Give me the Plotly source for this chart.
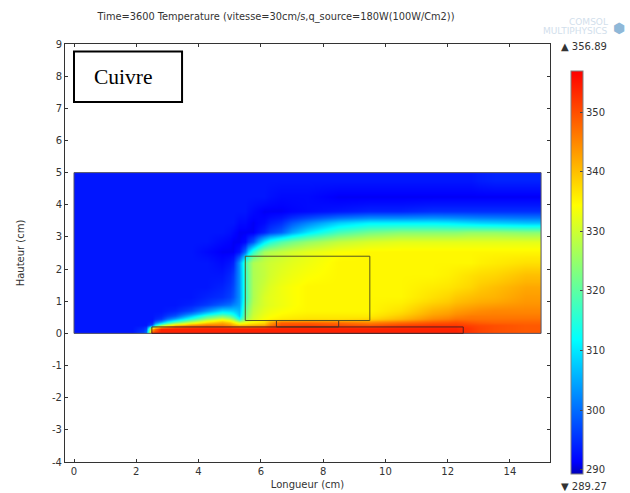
import plotly.graph_objects as go

title_text = "Time=3600 Temperature (vitesse=30cm/s,q_source=180W(100W/Cm2))"
x_label = "Longueur (cm)"
y_label = "Hauteur (cm)"
t_max = 356.89
t_min = 289.27
cbar_ticks = [290, 300, 310, 320, 330, 340, 350]
x_ticks = [0, 2, 4, 6, 8, 10, 12, 14]
y_ticks = [-4, -3, -2, -1, 0, 1, 2, 3, 4, 5, 6, 7, 8, 9]

x_edges = [0, 1.5, 2.2, 2.4, 2.6, 3, 3.5, 4, 4.5, 5, 5.2, 5.4, 5.6, 5.9, 6.3, 7, 8, 9, 10, 11, 12, 12.5, 13, 14, 15]
y_edges = [0, 0.1, 0.2, 0.3, 0.4, 0.5, 0.6, 0.8, 1, 1.3, 1.6, 2, 2.4, 2.7, 3, 3.3, 3.6, 4, 4.5, 5]

temperature = [
    [293, 293, 300, 350, 354, 354, 354, 354, 354, 354, 354, 354, 354, 354, 354, 354, 354, 354, 354, 354, 354, 352, 350, 349],
    [293, 293, 297, 340, 354, 354, 354, 354, 354, 354, 354, 354, 354, 354, 354, 354, 354, 354, 354, 354, 354, 352, 350, 349],
    [293, 293, 293, 298, 325, 340, 345, 347, 346, 342, 340, 340, 341, 342, 350, 351, 350, 349, 351, 352, 352, 351, 350, 349],
    [293, 293, 293, 294, 305, 320, 330, 337, 341, 336, 330, 333, 335, 337, 348, 348, 347, 345, 347, 349, 350, 349, 348, 348],
    [293, 293, 293, 293, 296, 306, 317, 327, 333, 326, 315, 325, 331, 334, 336, 337, 337, 338, 341, 345, 347, 347, 347, 347],
    [293, 293, 293, 293, 294, 298, 307, 317, 322, 316, 308, 322, 330, 333, 335, 336, 336, 336, 339, 343, 345, 346, 346, 346],
    [293, 293, 293, 293, 293, 294, 297, 303, 309, 308, 306, 320, 329, 332, 334, 335, 335, 335, 337, 341, 343, 344, 345, 345],
    [293, 293, 293, 293, 293, 293, 294, 296, 299, 302, 304, 318, 328, 331, 333, 335, 335, 335, 336, 339, 341, 342, 343, 344],
    [293, 293, 293, 293, 293, 293, 293, 294, 295, 298, 303, 316, 327, 331, 333, 335, 335, 335, 335, 337, 339, 340, 341, 343],
    [293, 293, 293, 293, 293, 293, 293, 293, 294, 297, 303, 316, 327, 330, 333, 335, 335, 335, 335, 336, 337, 338, 340, 342],
    [293, 293, 293, 293, 293, 293, 293, 293, 293, 296, 303, 316, 327, 329, 332, 334, 335, 335, 335, 335, 336, 337, 338, 340],
    [293, 293, 293, 293, 293, 293, 293, 293, 292, 294, 303, 317, 327, 329, 331, 333, 335, 335, 335, 335, 335, 335, 336, 337],
    [293, 293, 293, 293, 293, 293, 293, 292, 291, 291, 293, 300, 316, 326, 329, 332, 334, 335, 335, 335, 335, 335, 335, 335],
    [293, 293, 293, 293, 293, 293, 293, 293, 292, 291, 291, 292, 298, 310, 319, 325, 329, 331, 332, 332, 332, 332, 332, 332],
    [293, 293, 293, 293, 293, 293, 293, 293, 293, 292, 291, 291, 291, 294, 299, 310, 318, 322, 324, 324, 324, 325, 325, 324],
    [293, 293, 293, 293, 293, 293, 293, 293, 293, 293, 292, 292, 291, 292, 295, 302, 308, 311, 311, 311, 310, 309, 308, 307],
    [293, 293, 293, 293, 293, 293, 293, 293, 293, 293, 293, 293, 292, 291, 291, 292, 293, 294, 294, 295, 295, 295, 295, 295],
    [293, 293, 293, 293, 293, 293, 293, 293, 293, 293, 293, 293, 293, 293, 292, 292, 291, 291, 291, 291, 291, 291, 291, 291],
    [293, 293, 293, 293, 293, 293, 293, 293, 293, 293, 293, 293, 293, 293, 293, 293, 293, 293, 293, 293, 293, 293, 294, 294],
]

domain_rect = (0, 15, 0, 5)
heater_rect = (2.5, 12.5, 0, 0.2)
pad_rect = (6.5, 8.5, 0.2, 0.4)
block_rect = (5.5, 9.5, 0.4, 2.4)

colors = [
    [0.0, "#0000b8"],
    [0.03, "#0000ff"],
    [1 / 3, "#00ffff"],
    [2 / 3, "#ffff00"],
    [1.0, "#ff0000"],
]

TXT = "#333333"
FONT = "DejaVu Sans"

fig = go.Figure(
    go.Heatmap(
        x=x_edges,
        y=y_edges,
        z=temperature,
        zsmooth="best",
        zmin=t_min,
        zmax=t_max,
        colorscale=colors,
        hoverinfo="skip",
        colorbar=dict(
            thickness=12,
            thicknessmode="pixels",
            len=403 / 418,
            lenmode="fraction",
            x=1.0433,
            xanchor="left",
            xpad=0,
            y=391 / 418,
            yanchor="top",
            ypad=0,
            outlinewidth=1,
            outlinecolor="#808080",
            tickmode="array",
            tickvals=cbar_ticks,
            ticks="inside",
            ticklen=3,
            tickcolor="#444444",
            tickprefix="\u00a0",
            tickfont=dict(family=FONT, size=10, color=TXT),
        ),
    )
)


def rect(r, color, width):
    return dict(
        type="rect", xref="x", yref="y",
        x0=r[0], x1=r[1], y0=r[2], y1=r[3],
        line=dict(color=color, width=width),
    )


shapes = [
    rect(domain_rect, "#555566", 1),
    rect(heater_rect, "#502020", 1),
    rect(pad_rect, "#503020", 1),
    rect(block_rect, "#555520", 1),
    dict(type="rect", xref="x", yref="y", x0=0, x1=3.47, y0=7.2, y1=8.77,
         fillcolor="white", line=dict(color="black", width=2)),
]

annotations = [
    dict(text="Cuivre", xref="x", yref="y", x=1.6, y=7.98, showarrow=False,
         font=dict(family="Liberation Serif", size=21.5, color="black")),
    dict(text="▲ 356.89", xref="paper", yref="paper", x=(559 - 65) / 485, y=(462 - 47) / 418,
         xanchor="left", yanchor="middle", showarrow=False,
         font=dict(family=FONT, size=10, color=TXT)),
    dict(text="▼ 289.27", xref="paper", yref="paper", x=(559 - 65) / 485, y=(462 - 487) / 418,
         xanchor="left", yanchor="middle", showarrow=False,
         font=dict(family=FONT, size=10, color=TXT)),
    dict(text="COMSOL", xref="paper", yref="paper", x=(610 - 65) / 485, y=(462 - 22) / 418,
         xanchor="right", yanchor="middle", showarrow=False,
         font=dict(family=FONT, size=9, color="#d2e0ec")),
    dict(text="MULTIPHYSICS", xref="paper", yref="paper", x=(610 - 65) / 485, y=(462 - 31) / 418,
         xanchor="right", yanchor="middle", showarrow=False,
         font=dict(family=FONT, size=9, color="#d2e0ec")),
    dict(text="⬢", xref="paper", yref="paper", x=(619 - 65) / 485, y=(462 - 28) / 418,
         xanchor="center", yanchor="middle", showarrow=False,
         font=dict(family=FONT, size=14, color="#8fb8d8")),
]

axis = dict(
    automargin=False,
    showgrid=False, zeroline=False, showline=True, linecolor="#333333", linewidth=1,
    mirror="ticks", ticks="inside", ticklen=3, tickcolor="#333333",
    tickfont=dict(family=FONT, size=10, color=TXT),
)

fig.update_layout(
    width=630,
    height=493,
    margin=dict(l=65, r=80, t=44, b=31),
    paper_bgcolor="white",
    plot_bgcolor="white",
    title=dict(
        text=title_text, x=276 / 630, xanchor="center", y=1 - 17 / 493, yanchor="middle",
        font=dict(family=FONT, size=9.8, color=TXT),
    ),
    xaxis=dict(axis, range=[-0.289, 15.286], tickmode="array", tickvals=x_ticks,
               ticktext=[str(v) for v in x_ticks],
               title=dict(text=x_label, standoff=4, font=dict(family=FONT, size=10, color=TXT))),
    yaxis=dict(axis, range=[-4, 9], tickmode="array", tickvals=y_ticks,
               ticktext=[str(v) for v in y_ticks],
               title=dict(text=y_label, standoff=25, font=dict(family=FONT, size=10, color=TXT))),
    shapes=shapes,
    annotations=annotations,
)

fig.write_html(
    "out.html",
    config=dict(displayModeBar=False),
    post_script="document.body.style.margin='0';document.body.style.overflow='hidden';",
)
